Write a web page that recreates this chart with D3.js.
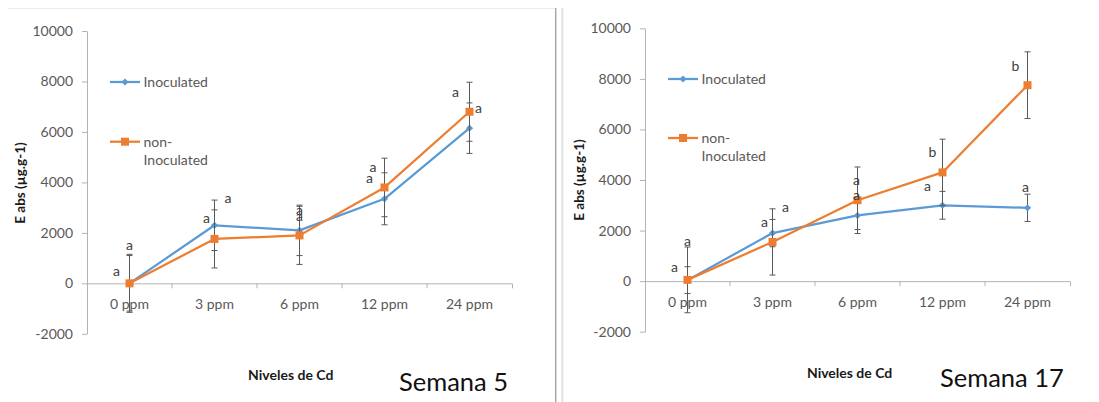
<!DOCTYPE html>
<html>
<head>
<meta charset="utf-8">
<script src="https://cdn.jsdelivr.net/npm/d3@7"></script>
<style>
  html, body { margin: 0; padding: 0; background: #fff; }
  svg { display: block; font-family: Lato, "Open Sans", sans-serif; }
</style>
</head>
<body>
<svg id="chart" width="1099" height="402"></svg>
<script>
// Cd levels and value axis ticks shared by both weeks
const categories = ["0 ppm", "3 ppm", "6 ppm", "12 ppm", "24 ppm"];
const yTicks = [-2000, 0, 2000, 4000, 6000, 8000, 10000];
const seriesNames = ["Inoculated", "non-Inoculated"];

// Week 5
const w5Inoc = [0, 2300, 2100, 3350, 6150];
const w5InocErr = [1150, 1000, 1000, 1030, 1000];
const w5InocLetters = ["a", "a", "a", "a", "a"];
const w5Non = [0, 1760, 1900, 3800, 6800];
const w5NonErr = [1100, 1150, 1150, 1160, 1170];
const w5NonLetters = ["a", "a", "a", "a", "a"];

// Week 17
const w17Inoc = [40, 1900, 2600, 3000, 2900];
const w17InocErr = [530, 540, 560, 550, 540];
const w17InocLetters = ["a", "a", "a", "a", "a"];
const w17Non = [50, 1550, 3200, 4300, 7750];
const w17NonErr = [1300, 1310, 1315, 1315, 1320];
const w17NonLetters = ["a", "a", "a", "b", "b"];

// Letter label placement relative to each point (px)
const w5InocLabelOffset = [[-13, -11], [-8, -6], [0, -13.3], [-15, -19], [-14, -35]];
const w5NonLabelOffset = [[0, -37], [13.5, -39.4], [0, -24.4], [-11.5, -19], [9, -2.7]];
const w17InocLabelOffset = [[-13, -11.7], [-8, -10], [-1, -18.6], [-15, -18.4], [-2, -19.4]];
const w17NonLabelOffset = [[0, -37.4], [13, -34], [-1, -18.4], [-10, -20], [-12, -19.3]];

const BLUE = "#5B9BD5", ORANGE = "#ED7D31";
const AXIS = "#b3b3b3", TEXT = "#595959", ERR = "#595959";

const svg = d3.select("#chart");

// Frame: faint top rule of the first panel and the divider between panels
svg.append("line").attr("x1", 8).attr("x2", 555).attr("y1", 8.5).attr("y2", 8.5)
  .attr("stroke", "#ebebeb").attr("stroke-width", 1);
svg.append("line").attr("x1", 555.7).attr("x2", 555.7).attr("y1", 8).attr("y2", 402)
  .attr("stroke", "#a8a8a8").attr("stroke-width", 1.5);
svg.append("line").attr("x1", 562.3).attr("x2", 562.3).attr("y1", 8).attr("y2", 402)
  .attr("stroke", "#e2e2e2").attr("stroke-width", 2);

const panels = [
  {
    week: "Semana 5",
    series: [
      { values: w5Inoc, err: w5InocErr, letters: w5InocLetters, offs: w5InocLabelOffset },
      { values: w5Non, err: w5NonErr, letters: w5NonLetters, offs: w5NonLabelOffset }
    ],
    xLeft: 87, xRight: 512, yTop: 31, yBottom: 333.8,
    yTitleX: 20, yTitleY: 183, xTitleX: 290.7, xTitleY: 375,
    weekX: 399, weekY: 382,
    legX0: 110, legX1: 140, legTextX: 143.5, legY: [82, 141.7]
  },
  {
    week: "Semana 17",
    series: [
      { values: w17Inoc, err: w17InocErr, letters: w17InocLetters, offs: w17InocLabelOffset },
      { values: w17Non, err: w17NonErr, letters: w17NonLetters, offs: w17NonLabelOffset }
    ],
    xLeft: 645, xRight: 1070, yTop: 28.3, yBottom: 331.7,
    yTitleX: 579, yTitleY: 180, xTitleX: 849.6, xTitleY: 372.7,
    weekX: 940, weekY: 377.7,
    legX0: 668, legX1: 698, legTextX: 701.5, legY: [79, 138]
  }
];

const colors = [BLUE, ORANGE];

function drawMarker(sel, idx, color) {
  if (idx === 0) {
    const r = 3.6;
    sel.append("path")
      .attr("d", `M0,${-r}L${r},0L0,${r}L${-r},0Z`)
      .attr("fill", color);
  } else {
    sel.append("rect").attr("x", -4).attr("y", -4).attr("width", 8).attr("height", 8)
      .attr("fill", color);
  }
}

panels.forEach(p => {
  const g = svg.append("g");
  const x = d3.scaleBand().domain(categories).range([p.xLeft, p.xRight]).padding(0);
  const y = d3.scaleLinear().domain([d3.min(yTicks), d3.max(yTicks)]).range([p.yBottom, p.yTop]);
  const cx = c => x(c) + x.bandwidth() / 2;

  // Value axis
  const ya = g.append("g").attr("transform", `translate(${p.xLeft},0)`)
    .call(d3.axisLeft(y).tickValues(yTicks).tickSize(5).tickSizeOuter(0).tickPadding(9)
      .tickFormat(d => String(d)));
  ya.select(".domain").attr("stroke", AXIS);
  ya.selectAll(".tick line").attr("stroke", AXIS);
  ya.selectAll(".tick text").attr("fill", TEXT).style("font-size", "14px")
    .style("font-family", "Lato, sans-serif");

  // Category axis on the zero line
  const xa = g.append("g").attr("transform", `translate(0,${y(0)})`)
    .call(d3.axisBottom(x).tickSize(0).tickSizeOuter(5).tickPadding(16));
  xa.select(".domain").attr("stroke", AXIS);
  xa.selectAll(".tick text").attr("fill", TEXT).style("font-size", "14px")
    .style("font-family", "Lato, sans-serif");
  // tick marks between categories
  xa.selectAll(".sep").data(categories.slice(1)).enter().append("line")
    .attr("class", "sep")
    .attr("x1", c => x(c)).attr("x2", c => x(c))
    .attr("y1", 0).attr("y2", 5).attr("stroke", AXIS);

  // Series: error bars, line, markers
  p.series.forEach((s, si) => {
    const color = colors[si];
    const eb = g.append("g");
    categories.forEach((c, i) => {
      const hi = y(s.values[i] + s.err[i]), lo = y(s.values[i] - s.err[i]);
      const xx = cx(c);
      eb.append("line").attr("x1", xx).attr("x2", xx).attr("y1", hi).attr("y2", lo)
        .attr("stroke", ERR).attr("stroke-width", 1);
      [hi, lo].forEach(yy => eb.append("line")
        .attr("x1", xx - 3).attr("x2", xx + 3).attr("y1", yy).attr("y2", yy)
        .attr("stroke", ERR).attr("stroke-width", 1));
    });

    const line = d3.line().x((d, i) => cx(categories[i])).y(d => y(d));
    g.append("path").datum(s.values).attr("d", line)
      .attr("fill", "none").attr("stroke", color).attr("stroke-width", 2.25)
      .attr("stroke-linejoin", "round");

    s.values.forEach((v, i) => {
      const m = g.append("g").attr("transform", `translate(${cx(categories[i])},${y(v)})`);
      drawMarker(m, si, color);
    });
  });

  // Significance letters
  p.series.forEach(s => {
    s.letters.forEach((L, i) => {
      const px = cx(categories[i]) + s.offs[i][0];
      const py = y(s.values[i]) + s.offs[i][1];
      g.append("text").attr("x", px).attr("y", py)
        .attr("dy", L === "b" ? "0.36em" : "0.26em")
        .attr("text-anchor", "middle")
        .attr("fill", "#404040").style("font-size", "14px")
        .text(L);
    });
  });

  // Legend
  seriesNames.forEach((name, si) => {
    const ly = p.legY[si];
    g.append("line").attr("x1", p.legX0).attr("x2", p.legX1).attr("y1", ly).attr("y2", ly)
      .attr("stroke", colors[si]).attr("stroke-width", 2.25);
    const m = g.append("g").attr("transform", `translate(${(p.legX0 + p.legX1) / 2},${ly})`);
    drawMarker(m, si, colors[si]);
    const t = g.append("text").attr("x", p.legTextX).attr("y", ly)
      .attr("fill", TEXT).style("font-size", "14px");
    if (name.indexOf("-") > 0) {
      const parts = name.split("-");
      t.append("tspan").attr("x", p.legTextX).attr("dy", "0.36em").text(parts[0] + "-");
      t.append("tspan").attr("x", p.legTextX).attr("dy", "1.31em").text(parts[1]);
    } else {
      t.attr("dy", "0.36em").text(name);
    }
  });

  // Axis titles
  g.append("text")
    .attr("transform", `translate(${p.yTitleX},${p.yTitleY}) rotate(-90)`)
    .attr("text-anchor", "middle").attr("dy", "0.36em")
    .style("font-size", "13.5px").style("font-weight", "bold").attr("fill", "#1a1a1a")
    .text("E abs (µg.g-1)");
  g.append("text").attr("x", p.xTitleX).attr("y", p.xTitleY)
    .attr("text-anchor", "middle").attr("dy", "0.36em")
    .style("font-size", "14px").style("font-weight", "bold").attr("fill", "#1a1a1a")
    .text("Niveles de Cd");

  // Week label
  g.append("text").attr("x", p.weekX).attr("y", p.weekY).attr("dy", "0.36em")
    .style("font-size", "25.5px").attr("fill", "#111")
    .text(p.week);
});
</script>
</body>
</html>
